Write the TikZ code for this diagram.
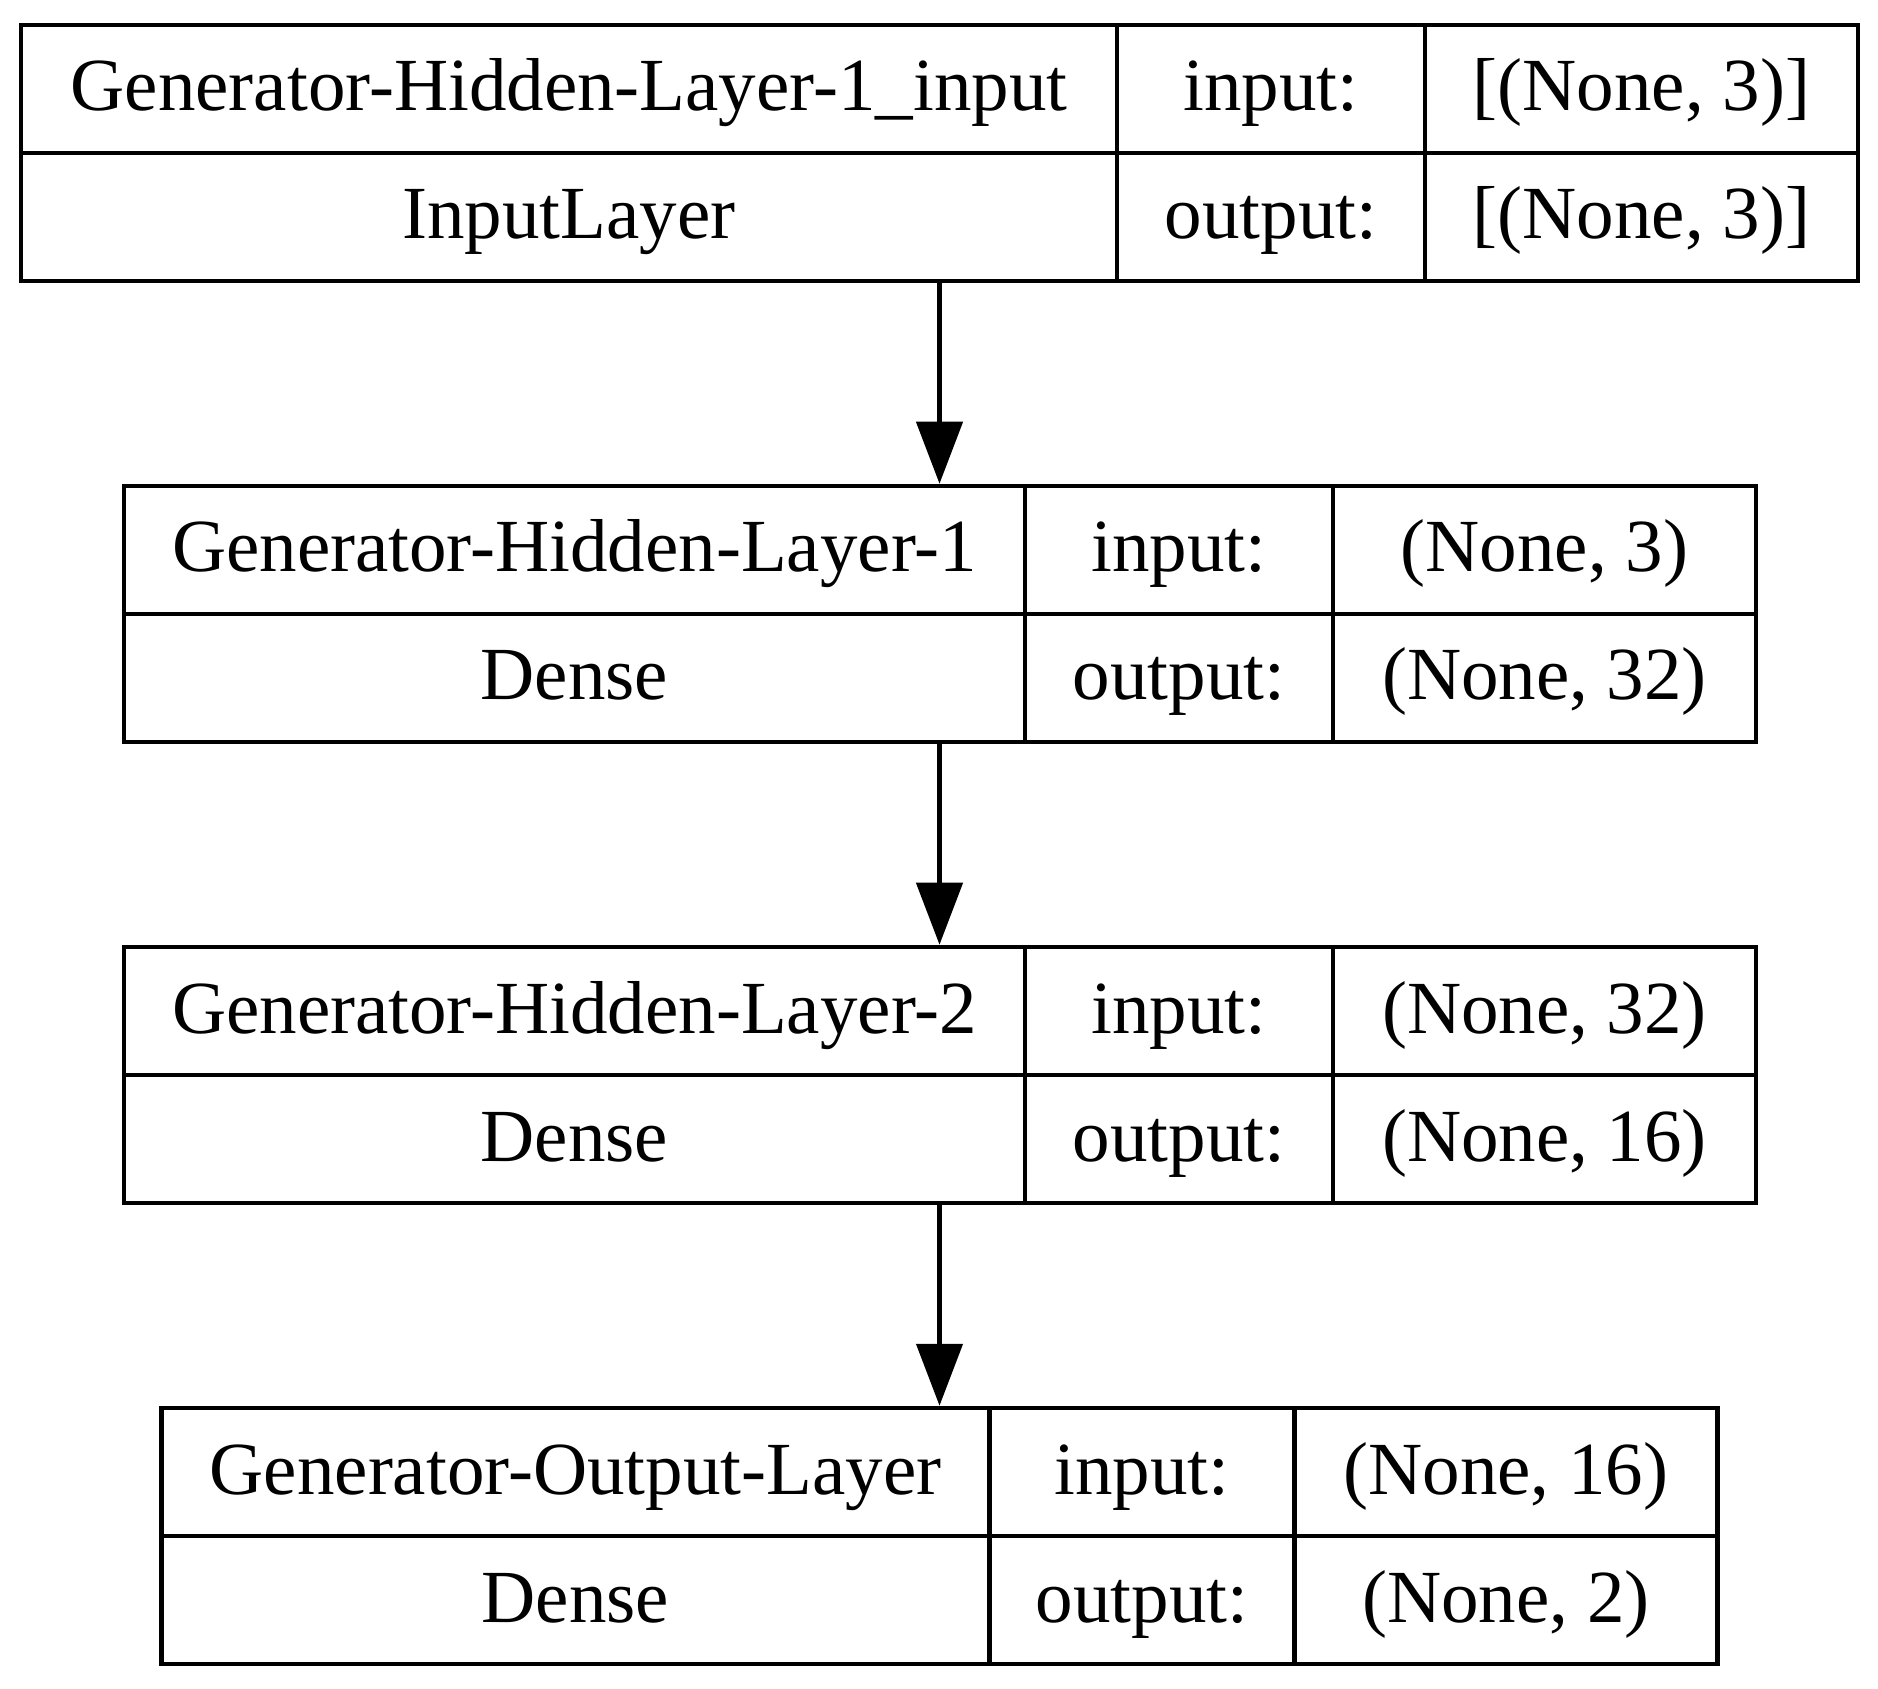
\documentclass[tikz,border=0pt]{standalone}
\usepackage{fontspec}
\setmainfont{Liberation Serif}
\usetikzlibrary{arrows.meta}

\begin{document}
\begin{tikzpicture}[
x=0.2pt, y=-0.2pt,
every node/.style={font=\fontsize{15}{18}\selectfont},
cell/.style={draw, line width=0.9pt, inner sep=0pt, outer sep=0pt, minimum height=128*0.2pt, text height=12pt, text depth=3.2pt, anchor=north west},
layer/.style={inner sep=0pt, outer sep=0.45pt, minimum height=256*0.2pt},
flow/.style={line width=0.9pt, -{Triangle[length=12.4pt,width=9.2pt]}}
]
\useasboundingbox (0,0) rectangle (1878,1689);

% input layer
\node at (939.5,153) [layer, minimum width=1837*0.2pt] (gin) {};
\node at (21,25) [cell, minimum width=1096*0.2pt] (gin-name) {Generator-Hidden-Layer-1\_input};
\node at (gin-name.north east) [cell, minimum width=308*0.2pt] (gin-in) {input:};
\node at (gin-in.north east) [cell, minimum width=433*0.2pt] (gin-inval) {[(None, 3)]};
\node at (gin-name.south west) [cell, minimum width=1096*0.2pt] (gin-type) {InputLayer};
\node at (gin-type.north east) [cell, minimum width=308*0.2pt] (gin-out) {output:};
\node at (gin-out.north east) [cell, minimum width=433*0.2pt] (gin-outval) {[(None, 3)]};

% hidden layer 1
\node at (939.5,614) [layer, minimum width=1632*0.2pt] (ghl1) {};
\node at (124,486) [cell, minimum width=901*0.2pt] (ghl1-name) {Generator-Hidden-Layer-1};
\node at (ghl1-name.north east) [cell, minimum width=308*0.2pt] (ghl1-in) {input:};
\node at (ghl1-in.north east) [cell, minimum width=423*0.2pt] (ghl1-inval) {(None, 3)};
\node at (ghl1-name.south west) [cell, minimum width=901*0.2pt] (ghl1-type) {Dense};
\node at (ghl1-type.north east) [cell, minimum width=308*0.2pt] (ghl1-out) {output:};
\node at (ghl1-out.north east) [cell, minimum width=423*0.2pt] (ghl1-outval) {(None, 32)};

% hidden layer 2
\node at (939.5,1075) [layer, minimum width=1632*0.2pt] (ghl2) {};
\node at (124,947) [cell, minimum width=901*0.2pt] (ghl2-name) {Generator-Hidden-Layer-2};
\node at (ghl2-name.north east) [cell, minimum width=308*0.2pt] (ghl2-in) {input:};
\node at (ghl2-in.north east) [cell, minimum width=423*0.2pt] (ghl2-inval) {(None, 32)};
\node at (ghl2-name.south west) [cell, minimum width=901*0.2pt] (ghl2-type) {Dense};
\node at (ghl2-type.north east) [cell, minimum width=308*0.2pt] (ghl2-out) {output:};
\node at (ghl2-out.north east) [cell, minimum width=423*0.2pt] (ghl2-outval) {(None, 16)};

% output layer
\node at (939.5,1536) [layer, minimum width=1556*0.2pt] (gout) {};
\node at (161.5,1408) [cell, minimum width=828*0.2pt] (gout-name) {Generator-Output-Layer};
\node at (gout-name.north east) [cell, minimum width=305*0.2pt] (gout-in) {input:};
\node at (gout-in.north east) [cell, minimum width=423*0.2pt] (gout-inval) {(None, 16)};
\node at (gout-name.south west) [cell, minimum width=828*0.2pt] (gout-type) {Dense};
\node at (gout-type.north east) [cell, minimum width=305*0.2pt] (gout-out) {output:};
\node at (gout-out.north east) [cell, minimum width=423*0.2pt] (gout-outval) {(None, 2)};

\draw [flow] (gin) -- (ghl1);
\draw [flow] (ghl1) -- (ghl2);
\draw [flow] (ghl2) -- (gout);
\end{tikzpicture}
\end{document}
